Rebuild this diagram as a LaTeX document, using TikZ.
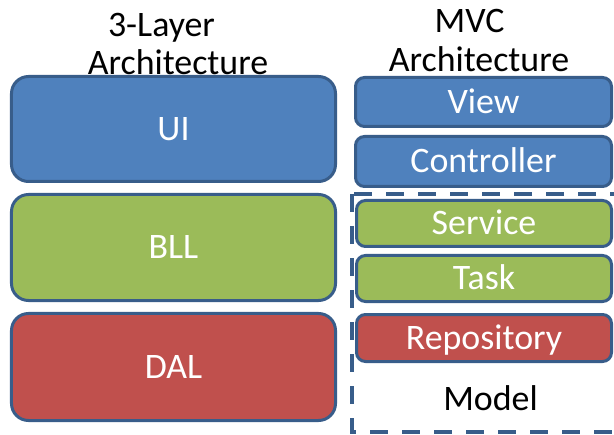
\documentclass[tikz,border=0pt]{standalone}
\usepackage{fontspec}
\setmainfont{Carlito}
\definecolor{bluefill}{HTML}{4F81BD}
\definecolor{greenfill}{HTML}{9BBB59}
\definecolor{redfill}{HTML}{C0504D}
\definecolor{outline}{HTML}{385D8A}
\begin{document}
\begin{tikzpicture}[x=1bp,y=-1bp,
  lbl/.style={font=\fontsize{36}{40}\selectfont, inner sep=0pt, text height=23bp, text depth=0pt},
  hdr/.style={font=\fontsize{36}{40}\selectfont, inner sep=0pt, anchor=base, text=black},
  layer/.style={lbl, draw=outline, line width=3bp, text=white},
  bigbox/.style={layer, rounded corners=17bp, minimum width=324bp},
  smallbox/.style={layer, rounded corners=9bp},
  modelbox/.style={draw=outline, line width=4bp, dash pattern=on 18bp off 14bp}
]
\useasboundingbox (0,0) rectangle (614,435);
\clip (0,0) rectangle (614,435);
\fill[white] (0,0) rectangle (614,435);

% headers
\node[hdr] (h1a) at (161.5,37) {3-Layer};
\node[hdr] (h1b) at (178,75) {Architecture};
\node[hdr] (h2a) at (469.5,33) {MVC};
\node[hdr] (h2b) at (479,72) {Architecture};

% model dashed frame
\draw[modelbox] (352,194) rectangle (620,432);

% 3-layer
\node[bigbox, fill=bluefill, minimum height=105bp] (ui) at (173.5,129) {UI};
\node[bigbox, fill=greenfill, minimum height=106bp] (bll) at (173.5,247.5) {BLL};
\node[bigbox, fill=redfill, minimum height=107bp] (dal) at (173.5,367) {DAL};

% MVC
\node[smallbox, fill=bluefill, minimum width=256bp, minimum height=49bp] (view) at (483.5,102) {View};
\node[smallbox, fill=bluefill, minimum width=256bp, minimum height=50bp] (ctrl) at (483.5,161.5) {Controller};
\node[smallbox, fill=greenfill, minimum width=255bp, minimum height=46bp] (svc) at (484,223.5) {Service};
\node[smallbox, fill=greenfill, minimum width=255bp, minimum height=46bp] (task) at (484,278.5) {Task};
\node[smallbox, fill=redfill, minimum width=255bp, minimum height=47bp] (repo) at (484,338) {Repository};
\node[hdr] (model) at (490.5,410) {Model};
\end{tikzpicture}
\end{document}
